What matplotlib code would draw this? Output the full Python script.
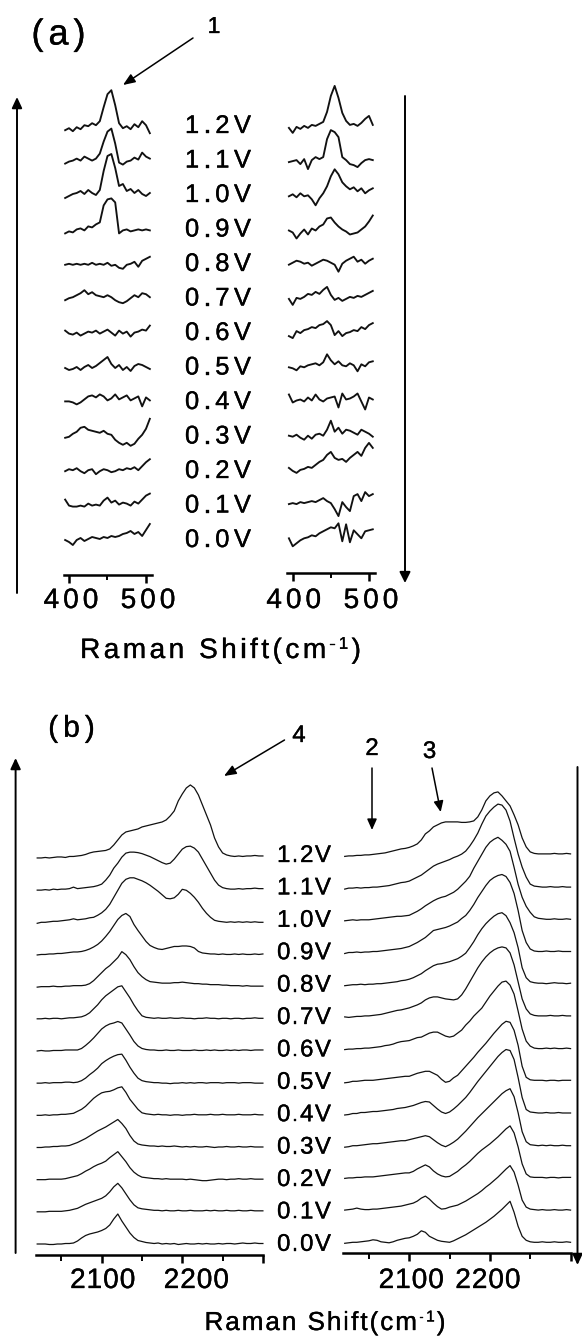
import numpy as np
import matplotlib
matplotlib.use("Agg")
import matplotlib.pyplot as plt
import matplotlib.patheffects as pe
from matplotlib.font_manager import FontProperties, findfont, get_font

plt.rcParams["font.family"] = ["Liberation Sans", "DejaVu Sans"]

# ---------------------------------------------------------------- data
potentials = ["1.2V", "1.1V", "1.0V", "0.9V", "0.8V", "0.7V", "0.6V",
              "0.5V", "0.4V", "0.3V", "0.2V", "0.1V", "0.0V"]

# (a) low-frequency region, intensity in a.u. (rows: 1.2V ... 0.0V)
shift_a = np.arange(395, 506, 5)
a_left = [
    [-3, -1, -4, 0, -2, 2, 1, 4, 2, 6, 20, 33, 37, 22, 4, -1, 1, -2, 3, 0, 6, 2, -6],
    [-2, 0, 1, 3, 1, 5, 3, 1, 3, 8, 20, 30, 33, 18, -1, -3, 0, 1, 4, 2, 9, 5, 3],
    [-2, 0, 2, 3, 5, 2, 6, 3, 1, 6, 25, 40, 42, 28, 10, 12, 5, 7, 3, 6, 2, 0, 3],
    [-3, -1, -2, 1, 2, 0, 4, 3, 6, 8, 25, 31, 32, 28, -3, 0, 1, -1, 0, 1, 0, 1, 0],
    [0, 1, 0, 1, 0, 1, 0, 2, 0, 1, 0, 2, -1, 0, -3, -4, 0, 1, 3, -2, 4, 6, 8],
    [-1, 1, 2, 4, 6, 9, 5, 7, 4, 3, 2, 4, 2, -1, -3, -4, -2, 1, 4, 2, 6, 5, 2],
    [3, 0, -1, 1, -2, 0, 2, 1, 3, 0, 2, 4, 1, -2, 3, 0, 2, -3, 1, 2, 4, 3, 8],
    [0, -2, -1, 1, -2, 1, 3, 0, 2, 5, 8, 11, 4, 0, 3, -2, 1, -3, 2, 4, 3, 1, -1],
    [1, 1, 0, -2, 0, 3, 6, 7, 5, 8, 6, 2, 4, 8, 3, 5, 7, 2, 4, 6, -4, 5, 2],
    [-1, 0, 3, 5, 9, 10, 7, 6, 5, 4, 6, 3, 2, -3, -6, -8, -6, -9, -7, -2, 2, 8, 18],
    [0, 2, 1, 3, 0, -2, 1, 2, -3, 0, 2, 1, -1, 0, 2, 1, 3, 2, 4, 1, 5, 9, 12],
    [6, 0, -1, -1, 0, -1, 2, 0, 1, 0, 5, 8, 3, 5, 1, 3, 2, 0, 4, 2, 6, 10, 12],
    [0, -2, -5, 0, 2, -1, 1, 3, 2, 1, 3, 2, 4, 3, 4, 6, 7, 9, 6, 8, 4, 10, 16],
]
a_right = [
    [0, -5, 1, -1, 2, 0, 3, 2, 4, 6, 16, 32, 42, 30, 15, 7, 3, 4, 2, 5, 9, 12, 3],
    [0, 1, 2, -2, 3, -7, 2, 5, 3, 5, 23, 32, 30, 25, 5, 2, -2, -3, -5, -1, 2, 3, 2],
    [0, 2, -1, 3, 0, 1, -3, -9, -2, 3, 10, 20, 27, 22, 14, 10, 7, 9, 5, 8, 3, 6, 8],
    [0, -2, -8, -3, 1, -4, 2, 0, 4, 6, 12, 13, 8, 4, 1, -1, -4, -3, -2, 1, 4, 9, 15],
    [0, 2, 4, 3, 1, 2, -1, 1, 3, 5, 4, 2, 0, -7, 1, 4, 6, 8, 3, 5, 1, 4, 6],
    [0, -6, 1, 0, 2, 5, 4, 7, 5, 9, 12, 4, -1, 1, -2, 0, 2, 1, 3, 2, 4, 6, 8],
    [-3, -5, 2, 0, 3, 4, 6, 5, 8, 9, 12, 8, -2, 2, -3, 0, 1, 3, 2, 6, 4, 8, 10],
    [0, -1, -3, 1, 0, 2, 3, 4, 2, 5, 13, 7, 3, 6, 2, 1, 4, 2, -4, 3, 1, 5, 6],
    [7, -1, 1, 2, 0, 4, 1, 7, 2, 0, 3, 4, 5, -6, 8, 2, 3, 5, 8, 0, -8, 4, 2],
    [0, -1, 1, -2, -4, 0, -3, 1, 2, 0, 6, 15, 4, 8, 2, 6, 5, 3, 1, 6, 4, 2, -1],
    [2, -1, -3, 0, 1, 3, 2, 5, 8, 10, 15, 18, 12, 10, 11, 8, 12, 15, 18, 14, 22, 27, 22],
    [0, 1, 0, 2, 1, 2, 3, 2, 4, 6, 3, 1, -5, -12, 2, -3, -7, 8, 10, 3, 12, 8, 10],
    [0, -8, -5, -2, 0, 1, 3, 2, 5, 7, 9, 11, 10, 15, -3, 14, -4, 8, 4, 0, 7, 8, 9],
]

# (b) C-N stretching region, intensity in a.u. (rows: 1.2V ... 0.0V)
shift_b = np.arange(2020, 2301, 5)
b_left = [
    [0, 0, 0.5, 0, 0.5, 1, 1, 0.5, 1.5, 1.5, 2, 2.5, 3.5, 5, 6, 6.5, 7, 7.5, 9, 13, 18, 23, 26, 27, 28, 29, 31, 32, 33, 34, 35, 36, 38, 42, 47, 57, 64, 70, 73, 70, 63, 53, 43, 33, 20, 11, 5, 3, 2, 1.5, 2, 1.5, 2, 2, 2.5, 2, 2],
    [0, 0, 0.5, 0, 1, 0.5, 1, 1, 1.5, 3, 1.5, 2, 2.5, 3, 3.5, 4.5, 6, 10, 15, 22, 27, 33, 37, 38, 38, 37.5, 36.5, 35, 33.5, 31.5, 29.5, 27.5, 26, 27, 31, 36, 41, 43.5, 44, 42, 38, 31, 24, 17, 10, 5, 2.5, 1.5, 1, 1, 1.5, 1, 1.5, 1.5, 2, 1.5, 1.5],
    [-1, 0, 0, 0.5, 1, 1, 1.5, 2, 2.5, 3.5, 2.5, 3, 3.5, 4.5, 5, 7, 9.5, 13, 18, 25, 32, 39, 43, 44.5, 44.5, 43, 41.5, 39.5, 37, 34, 31, 27.5, 24, 23.5, 24.5, 28, 33, 32, 29, 25, 20, 14, 9, 5, 2, 1, 0.5, 0, 0.5, 0, 0.5, 0, 0.5, 0, 0.5, 0, 0],
    [-0.5, 0, 0, 0.5, 0.5, 1, 1, 1.5, 2, 2.5, 2.5, 3, 4, 5.5, 7.5, 10, 13.5, 18, 23, 29, 35, 39, 41, 38, 30, 24, 18.5, 13, 9, 7, 5.5, 5, 6, 7, 8, 8, 8.5, 8.5, 8, 6.5, 3, 1.5, 1, 0.5, 0.5, 0, 0.5, 0, 0, 0.5, 0, 0.5, 0, 0, 0.5, 0, 0.5],
    [-0.5, 0, 0, 0, 0.5, 0, 0, 0.5, 0.5, 1, 1, 1, 1.5, 3, 6, 10, 14, 18, 21, 25, 29, 35, 32, 27, 20, 14, 10, 7, 5, 4.5, 4, 3.5, 3.5, 3.5, 4, 4, 4.5, 4, 3.5, 3, 3, 2.5, 2.5, 2, 2, 2, 1.5, 1.5, 1, 1, 1, 0.5, 1, 0.5, 0.5, 0.5, 0.5],
    [0, 0, 0.5, 0, 0.5, 0.5, 0, 0.5, 1, 1, 1.5, 2, 3.5, 6, 10, 14, 19, 23, 26, 29, 32, 33, 27, 21, 14, 8, 3, 1.5, 1, 0.5, 1, 0.5, 0.5, 1, 0.5, 0.5, 1, 0.5, 0.5, 0, 0.5, 0.5, 1, 0.5, 0.5, 0, 0.5, 0.5, 0, 0.5, 0.5, 0, 0.5, 0.5, 1, 0.5, 0.5],
    [0, 0.5, 0, 0, 0.5, 0.5, 0.5, 1, 1, 1, 1, 2.5, 5.5, 9, 13, 17.5, 22, 25, 27, 28, 29.5, 28, 22, 16, 9.5, 5, 2.5, 1.5, 1, 1, 0.5, 0.5, 1, 0.5, 0.5, 1, 0.5, 0.5, 0.5, 1, 0.5, 0.5, 1, 0.5, 1, 0.5, 0.5, 1, 0.5, 1, 0.5, 1, 1, 0.5, 1, 1, 1],
    [0, 0, 0.5, 0, 0.5, 0.5, 0.5, 1, 1, 0.5, 1, 2.5, 5, 8.5, 11.5, 15, 19.5, 22.5, 25, 27, 28.5, 29, 23, 16, 10, 5, 2.5, 1.5, 1, 0.5, 0.5, 0, 0, -0.5, 0, 0, 0.5, 0, 0.5, 0, 0.5, 0.5, 0, 0.5, 0.5, 0.5, 0, 0.5, 0.5, 0.5, 0, 0.5, 0.5, 0.5, 0, 0, 0],
    [0, 0, 0.5, 0, 0.5, 0.5, 1, 1, 1.5, 2, 4, 6, 9, 13, 17, 20, 22.5, 23.5, 24, 25.5, 27.5, 28.5, 23, 16, 11, 6, 2.5, 1.5, 1, 0.5, 1, 0.5, 0.5, 0, 0.5, 0.5, 0, 0.5, 0.5, 1, 0.5, 0.5, 0.5, 1, 0.5, 0.5, 1, 0.5, 0.5, 0.5, 1, 0.5, 0.5, 0.5, 1, 0.5, 0.5],
    [0, 0, 0.5, 0.5, 1, 1, 1.5, 1.5, 2, 3.5, 5, 7, 9, 11.5, 14, 16.5, 18.5, 20.5, 23, 25.5, 28, 24, 19, 12, 6.5, 3.5, 2.5, 2, 1.5, 1.5, 1, 1.5, 1, 1, 1.5, 1, 0.5, 1, 0.5, 1, 0.5, 0.5, 1, 0.5, 0, 0.5, 0.5, 1, 0.5, 0.5, 1, 0.5, 0.5, 1, 0.5, 0.5, 0.5],
    [0, 0, 0, 0.5, 0.5, 0.5, 0.5, 1, 2, 3, 4, 6, 8.5, 10.5, 13, 15, 16.5, 18.5, 22, 25, 28, 23, 18, 12, 7.5, 4.5, 2.5, 2, 1.5, 1, 1, 0.5, 1, 0.5, 0.5, 0.5, 0.5, 0, 0.5, 0, -0.5, -1, -1, -0.5, 0, 0.5, 0.5, 0, 0.5, 0.5, 1, 0.5, 0.5, 1, 0.5, 0.5, 0.5],
    [0, 0, 0, 0.5, 0.5, 0.5, 0.5, 1, 1.5, 2.5, 3.5, 5.5, 7.5, 9, 10.5, 12, 13.5, 16, 20, 25, 28.5, 24, 18, 12, 7, 4, 3, 2.5, 2, 1.5, 1.5, 1, 1.5, 1, 1, 1.5, 1, 1, 1.5, 1, 1, 1, 1.5, 1, 1.5, 1, 1, 1.5, 1, 1, 1.5, 1, 1, 1.5, 1, 1, 1],
    [0, 0, 0, -0.5, -0.5, 0, 0, 0.5, 0.5, 1, 3, 6, 8.5, 10, 11, 12, 13.5, 15.5, 19, 25, 30, 23, 17, 11, 6.5, 3.5, 2.5, 1.5, 1, 0.5, 1, 0, 0.5, 0, 0.5, -0.5, 0, 0.5, 0, 0, 0.5, 0, 0.5, 0, 0, 0.5, 0, 0.5, 0.5, 0, 0.5, 1, 0.5, 0.5, 1, 0.5, 0.5],
]
b_right = [
    [-0.5, 0, 0, 0.5, 0.5, 1, 1, 1.5, 2, 2.5, 3, 4, 5, 6, 7, 7.5, 8.5, 10, 12, 16, 22, 25, 29, 31, 33, 34, 34, 34, 34, 33.5, 33.5, 34, 35, 39, 46, 55, 60, 63, 64, 60, 55, 50, 41, 31, 18, 9, 4, 2.5, 2, 2, 2, 2, 2.5, 2, 2, 2.5, 2],
    [-1, 0, 0, 0.5, 0, 0.5, 0.5, 1, 1, 1.5, 2, 2.5, 3.5, 4.5, 5.5, 6, 7, 9, 11, 13, 16, 19, 22, 24, 25.5, 27, 28.5, 30.5, 32, 34, 37, 42, 48, 55, 64, 72, 77, 81, 84, 83, 78, 67, 50, 34, 21, 11, 4, 2, 1.5, 1, 1, 1.5, 1, 1, 1.5, 1, 1],
    [-0.5, 0, 0.5, 0, 0.5, 0.5, 0.5, 1, 1.5, 2, 2.5, 3, 3.5, 4, 4, 4.5, 5, 7, 9, 11.5, 14.5, 17, 19.5, 21.5, 23, 24, 26, 28, 31, 35, 39, 44, 52, 59, 66, 73, 78, 81, 83, 80, 76, 69, 53, 36, 23, 14, 8, 3.5, 2, 1.5, 1, 1, 1.5, 1, 1, 1.5, 1],
    [-1, 0, 0, 0.5, 0, 0.5, 0.5, 1, 1, 1.5, 2, 2.5, 3, 3.5, 4, 5, 6, 8, 10, 12.5, 15, 18.5, 22, 23, 24, 25, 26.5, 28.5, 30.5, 34, 37, 42, 48, 55, 61, 67, 72, 75, 77, 78, 76, 70, 59, 42, 22, 10, 3.5, 1.5, 1, 1, 1.5, 1, 1, 1.5, 1, 1, 1],
    [-1, -0.5, 0, 0, 0.5, 0, 0.5, 0.5, 1, 1, 1.5, 2, 2.5, 3, 4, 4.5, 5.5, 7, 9, 11, 14, 16.5, 19, 20.5, 21, 22, 23, 24.5, 26, 28.5, 31.5, 37, 43, 50, 56, 61, 65, 68.5, 71, 72, 69, 62, 52, 37, 17, 7, 3, 2, 1.5, 1.5, 1, 1.5, 2, 1.5, 1.5, 1, 1.5],
    [0, -0.5, 0, 0.5, 0.5, 1, 1, 1.5, 2, 2.5, 3.5, 4.5, 5.5, 6.5, 7, 8, 9, 10.5, 12, 14, 17, 19, 20, 20, 19, 18, 17.5, 17, 18, 22, 28, 35, 42, 49, 55, 60, 64, 67, 69, 70, 69, 64, 52, 35, 18, 8, 3, 1.5, 1, 1, 1, 1.5, 1, 1, 1.5, 1, 1],
    [-0.5, 0, 0, 0.5, 0.5, 1, 1, 1.5, 2, 2.5, 3.5, 4, 5, 6.5, 7.5, 8, 8.5, 10, 11.5, 12, 14, 16, 17, 17, 15, 13, 12, 13, 16, 19, 24, 28, 33, 37, 41, 47, 53, 58, 63, 67, 68, 64, 55, 38, 20, 8, 3, 1, 0.5, 0.5, 1, 0.5, 1, 0.5, 0.5, 1, 0.5],
    [-1.5, -1, 0, 0, 0.5, 1, 1, 1, 1.5, 2, 2.5, 3, 3.5, 4, 4.5, 5, 5, 6.5, 8, 9, 10, 10, 8, 6, 2, -1, 0, 3.5, 6, 10.5, 15, 19.5, 24, 29, 33.5, 38, 43, 48, 52.5, 57, 60, 59, 51, 36, 15, 4, 1.5, 1, 1, 1, 0.5, 1, 1, 0.5, 1, 1, 1],
    [-1.5, -1, 0, 0, 1, 1, 1.5, 2, 2, 2.5, 3, 3.5, 4, 5, 5.5, 6, 7, 8, 9.5, 11, 12, 11.5, 8, 4.5, 1.5, 0, 1.5, 4.5, 8, 12, 16, 21, 26.5, 32, 37, 42, 47, 52, 57, 61, 64, 63, 54, 36, 16, 4, 1.5, 1, 0.5, 0.5, 1, 0.5, 0.5, 1, 0.5, 0.5, 0.5],
    [-1.5, -1, 0, 0, 0.5, 1, 1.5, 2, 2, 2.5, 3, 3.5, 4, 4.5, 5, 5, 6, 7, 8, 9, 10, 9, 6, 3, 0.5, -1, 1, 3.5, 6.5, 10.5, 14.5, 19, 23.5, 28, 32, 36, 40, 44, 48, 52, 55, 57, 49, 33, 14, 4, 1, 0.5, 0, 0.5, 0, 0.5, 0, 0, 0.5, 0, 0],
    [-0.5, 0, 0, 0.5, 0.5, 1, 1, 1, 1.5, 2, 2.5, 3, 3.5, 4, 4.5, 5, 5, 6.5, 9, 11, 13, 11, 7, 4, 2, 1, 1.5, 4, 6.5, 10, 13, 16.5, 20.5, 24.5, 28, 31, 34, 37.5, 41, 45, 49, 52, 45, 31, 14, 4, 1, 0.5, 0.5, 0.5, 0, 0.5, 0.5, 0, 0.5, 0.5, 0.5],
    [0, 0.5, 1, 2, 1, 0.5, 0.5, 1, 1, 1.5, 2, 2.5, 3, 3.5, 4, 5, 6, 7, 9, 12, 14, 11, 7, 3.5, 1, 1.5, 3, 4, 5, 7, 9, 11.5, 14, 16.5, 19.5, 23, 26, 29.5, 33, 37, 41, 44.5, 38, 25, 10, 3, 1, 0.5, 0, 0.5, 0, 0, 0.5, 0, 0, 0.5, 0],
    [-1, -0.5, 0, 0, 0.5, 1, 1.5, 2.5, 2, 0.5, 0, -0.5, 0.5, 2, 3, 4, 4.5, 6, 8, 11.5, 10, 6, 4, 2, 1, 0.5, 0, 1.5, 3.5, 5.5, 7.5, 10, 12.5, 15, 17.5, 20, 23, 26, 29.5, 33, 37, 41, 30, 16, 6, 2, 0.5, 0, 0, 0.5, 0, 0, 0.5, 0, 0, 0.5, 0],
]

major_a, minor_a, labels_a = [400, 500], [450], ["400", "500"]
major_b, minor_b, labels_b = [2100, 2200, 2300], [2050, 2150, 2250], ["2100", "2200"]

# ---------------------------------------------------------------- figure
W, H, DPI = 582, 1336, 100
FONT = "Liberation Sans"
fig = plt.figure(figsize=(W / DPI, H / DPI), dpi=DPI, facecolor="white")

# overlay in pixel units (y downwards) for text and arrows
over = fig.add_axes([0, 0, 1, 1])
over.set_xlim(0, W)
over.set_ylim(H, 0)
over.axis("off")

_ft = get_font(findfont(FontProperties(family=FONT)))
_heavier = [pe.withStroke(linewidth=0.25, foreground="black")]


def advance(ch, size_px):
    _ft.set_size(size_px, 72)
    return _ft.load_char(ord(ch)).linearHoriAdvance / 65536.0


def spaced(x, base, parts, size_px, gap):
    """Letter-spaced text centred on x with its baseline at `base` (pixels)."""
    items = [(ch, size_px * sc, rise * size_px) for txt, sc, rise in parts for ch in txt]
    widths = [advance(ch, s) for ch, s, _ in items]
    total = sum(widths) + gap * (len(items) - 1)
    cx = x - total / 2
    for (ch, s, rise), w in zip(items, widths):
        if ch.strip():
            over.text(cx + w / 2, base - rise, ch, fontsize=s * 72 / DPI,
                      family=FONT, ha="center", va="baseline", color="black",
                      path_effects=_heavier)
        cx += w + gap


def arrow(x0, y0, x1, y1, lw=1.1, hl=9.0, hw=4.0):
    style = f"-|>,head_length={hl / 13.89:.3f},head_width={hw / 13.89:.3f}"
    over.annotate("", xy=(x1, y1), xytext=(x0, y0),
                  arrowprops=dict(arrowstyle=style, lw=lw, color="black",
                                  shrinkA=0, shrinkB=0, mutation_scale=10))


def column(left, right, top, bar, xlim, shift, rows, base0, step, lw,
           major, minor, maj_len, min_len):
    ax = fig.add_axes([left / W, 1 - bar / H, (right - left) / W, (bar - top) / H])
    ax.patch.set_visible(False)
    ax.set_xlim(*xlim)
    ax.set_ylim(0, bar - top)
    n = len(rows)
    for i, vals in enumerate(rows):
        level = n - 1 - i
        y0 = bar - (base0 - step * level)
        ax.plot(shift, y0 + np.asarray(vals, float), color="#111111", lw=lw,
                clip_on=False, solid_joinstyle="round")
    for s in ("top", "left", "right"):
        ax.spines[s].set_visible(False)
    ax.spines["bottom"].set_linewidth(1.8)
    ax.set_yticks([])
    ax.set_xticks(major)
    ax.set_xticks(minor, minor=True)
    ax.tick_params(axis="x", which="major", direction="out", length=maj_len,
                   width=1.8, labelbottom=False)
    ax.tick_params(axis="x", which="minor", direction="out", length=min_len,
                   width=1.4, labelbottom=False)
    return ax


def tick_text(ax, values, texts, base, size_px, gap, dx):
    for v, t, d in zip(values, texts, dx):
        x = ax.transData.transform((v, 0))[0]
        spaced(x + d, base, [(t, 1, 0)], size_px, gap)


xlabel = [("Raman Shift(cm", 1, 0), ("-1", 0.6, 0.33), (")", 1, 0)]

# ---------------------------------------------------------------- panel (a)
ax_al = column(64.3, 151.7, 70, 575, (393.9, 507.4), shift_a, a_left,
               540, 34.4, 1.35, major_a, minor_a, 5.8, 3.6)
ax_ar = column(286.7, 375, 70, 573, (392.1, 507.9), shift_a, a_right,
               538.3, 34.2, 1.35, major_a, minor_a, 5.8, 3.6)
tick_text(ax_al, major_a, labels_a, 608, 28, 4, [2, 2])
tick_text(ax_ar, major_a, labels_a, 608, 28, 4, [1, 2])
for i, p in enumerate(potentials):
    spaced(218, 133 + 34.5 * i, [(p, 1, 0)], 25.5, 4.5)
spaced(58.5, 44.5, [("(a)", 1, 0)], 36, 5)
spaced(214, 33, [("1", 1, 0)], 23, 0)
spaced(220.5, 658, xlabel, 28, 3.5)
arrow(193, 38, 123, 85, lw=1.1, hl=10, hw=4)
arrow(17, 593, 17, 97, lw=1.4, hl=9, hw=4.2)
arrow(405, 96, 405, 583, lw=1.4, hl=9, hw=4.5)

# ---------------------------------------------------------------- panel (b)
ax_bl = column(36, 263.3, 760, 1255, (2018.5, 2300.5), shift_b, b_left,
               1244, 32.17, 0.9, major_b, minor_b, 5.8, 4.6)
ax_br = column(342.7, 570.7, 760, 1253, (2017.5, 2300.2), shift_b, b_right,
               1242.3, 32.2, 0.9, major_b, minor_b, 5.8, 4.6)
tick_text(ax_bl, major_b, labels_b, 1288, 28, 1, [1, 14])
tick_text(ax_br, major_b, labels_b, 1288, 28, 1, [2, -2])
for i, p in enumerate(potentials):
    spaced(304, 862 + 32.4 * i, [(p, 1, 0)], 24, 1.5)
spaced(71.5, 736.7, [("(b)", 1, 0)], 30, 5)
spaced(299, 742, [("4", 1, 0)], 24, 0)
spaced(372, 755, [("2", 1, 0)], 24, 0)
spaced(429.5, 758, [("3", 1, 0)], 24, 0)
spaced(325, 1330, xlabel, 26, 2)
arrow(284.5, 740, 224, 776, lw=1.1, hl=10, hw=4)
arrow(372, 768, 372, 830, lw=1.1, hl=9, hw=4)
arrow(432, 768, 440.7, 812, lw=1.1, hl=9, hw=4)
arrow(15.6, 1253, 15.6, 758, lw=1.4, hl=9, hw=4.2)
arrow(577.5, 767, 577.5, 1265, lw=1.4, hl=9, hw=4.2)

fig.savefig("out.png", dpi=DPI, facecolor="white")
